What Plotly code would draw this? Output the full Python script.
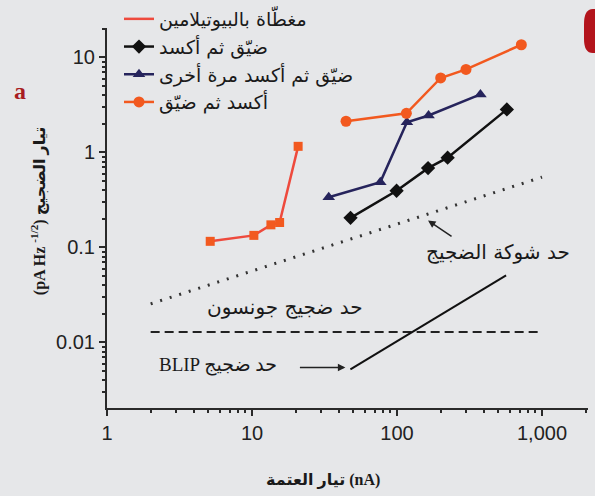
import plotly.graph_objects as go

# --- data -------------------------------------------------------------
# dark current (nA) and noise current (pA Hz^-1/2) for each treatment
butyl_x = [5.15, 10.3, 13.5, 15.5, 20.8]
butyl_y = [0.116, 0.134, 0.173, 0.183, 1.16]

narrow_ox_x = [47.8, 99.3, 163.7, 223.4, 572]
narrow_ox_y = [0.205, 0.395, 0.684, 0.88, 2.84]

narrow_ox2_x = [33.8, 76.7, 117, 165, 376]
narrow_ox2_y = [0.338, 0.487, 2.08, 2.45, 4.08]

ox_narrow_x = [44.5, 116, 200, 299, 720]
ox_narrow_y = [2.13, 2.58, 6.08, 7.48, 13.6]

# theoretical limits
shot_x = [2, 1000]
shot_y = [0.0255, 0.55]
johnson_x = [2, 1000]
johnson_y = [0.0129, 0.0129]
blip_x = [47.7, 565]
blip_y = [0.0052, 0.0507]

names = [
    "مغطّاة بالبيوتيلامين",
    "ضيّق ثم أكسد",
    "ضيّق ثم أكسد مرة أخرى",
    "أكسد ثم ضيّق",
]
limit_labels = ["حد شوكة الضجيج", "حد ضجيج جونسون", "BLIP حد ضجيج"]

x_tickvals = [1, 10, 100, 1000]
x_ticktext = ["1", "10", "100", "1,000"]
y_tickvals = [0.01, 0.1, 1, 10]
y_ticktext = ["0.01", "0.1", "1", "10"]

x_title = "تيار العتمة (nA)"
y_title = "(pA Hz <sup>-1/2</sup>) تيار الضجيج"

# --- styling ----------------------------------------------------------
BG = "#e6e7e9"
RED = "#ee4a3d"
ORANGE = "#f2591f"
BLACK = "#111111"
NAVY = "#26245c"
AXIS = "#2a2a2a"
SERIF_AR = "Liberation Serif, DejaVu Sans"

fig = go.Figure()

# legend entry for the butylamine series is a plain line
fig.add_trace(go.Scatter(x=[None], y=[None], mode="lines", name=names[0],
                         line=dict(color=RED, width=2.5), legendgroup="g1"))
fig.add_trace(go.Scatter(x=butyl_x, y=butyl_y, mode="lines+markers", showlegend=False,
                         line=dict(color=RED, width=2.5),
                         marker=dict(symbol="square", size=9, color=ORANGE)))
fig.add_trace(go.Scatter(x=narrow_ox_x, y=narrow_ox_y, mode="lines+markers", name=names[1],
                         legendgroup="g2",
                         line=dict(color=BLACK, width=2.5),
                         marker=dict(symbol="diamond", size=11, color=BLACK)))
fig.add_trace(go.Scatter(x=narrow_ox2_x, y=narrow_ox2_y, mode="lines+markers", name=names[2],
                         legendgroup="g3",
                         line=dict(color=NAVY, width=2.5),
                         marker=dict(symbol="triangle-up", size=11, color=NAVY)))
fig.add_trace(go.Scatter(x=ox_narrow_x, y=ox_narrow_y, mode="lines+markers", name=names[3],
                         legendgroup="g4",
                         line=dict(color=ORANGE, width=2.5),
                         marker=dict(symbol="circle", size=11, color=ORANGE)))

# noise limits
fig.add_trace(go.Scatter(x=shot_x, y=shot_y, mode="lines", showlegend=False,
                         line=dict(color="#333333", width=3, dash="2px,8px")))
fig.add_trace(go.Scatter(x=johnson_x, y=johnson_y, mode="lines", showlegend=False,
                         line=dict(color="#222222", width=2, dash="9px,5px")))
fig.add_trace(go.Scatter(x=blip_x, y=blip_y, mode="lines", showlegend=False,
                         line=dict(color="#111111", width=2)))

label_font = dict(family="DejaVu Sans", size=20, color="#1a1a1a")

# limit labels and pointers
fig.add_annotation(x=2.695, y=-1.053, xref="x", yref="y", text=limit_labels[0],
                   showarrow=False, font=label_font)
fig.add_annotation(x=2.214, y=-0.716, xref="x", yref="y", text="", showarrow=True,
                   ax=25, ay=17, arrowhead=2, arrowsize=1, arrowwidth=1.5,
                   arrowcolor="#222222")
fig.add_annotation(x=1.229, y=-1.628, xref="x", yref="y", text=limit_labels[1],
                   showarrow=False, font=label_font)
fig.add_annotation(x=0.764, y=-2.242, xref="x", yref="y", text=limit_labels[2],
                   showarrow=False, font=dict(family=SERIF_AR, size=19, color="#1a1a1a"))
fig.add_annotation(x=1.644, y=-2.263, xref="x", yref="y", text="", showarrow=True,
                   ax=-47, ay=0, arrowhead=2, arrowsize=1, arrowwidth=1.5,
                   arrowcolor="#222222")

# axis titles
fig.add_annotation(x=0.449, y=0, xref="paper", yref="paper", yshift=-72,
                   text=x_title, showarrow=False, yanchor="middle",
                   font=dict(family=SERIF_AR, size=16, color="#1a1a1a", weight="bold"))
fig.add_annotation(x=0, y=0.518, xref="paper", yref="paper", xshift=-69,
                   text=y_title, showarrow=False, textangle=-90,
                   xanchor="center", yanchor="middle",
                   font=dict(family=SERIF_AR, size=16, color="#1a1a1a", weight="bold"))

# panel letter
fig.add_annotation(x=-0.197, y=0.873, xref="paper", yref="paper", text="a",
                   showarrow=False,
                   font=dict(family="Liberation Serif", size=24, color="#a81c22", weight="bold"))

# corner badge
fig.add_shape(type="path", xref="paper", yref="paper",
              path="M 1.03,1.05 L 1.010,1.05 Q 0.9917,1.05 0.9917,1.01 "
                   "L 0.9917,0.971 Q 0.9917,0.934 1.010,0.934 L 1.03,0.934 Z",
              fillcolor="#b3141c", line=dict(width=0), layer="above")

minor_x = [2, 3, 4, 5, 6, 7, 8, 9, 20, 30, 40, 50, 60, 70, 80, 90,
           200, 300, 400, 500, 600, 700, 800, 900, 2000]
minor_y = [0.003, 0.004, 0.005, 0.006, 0.007, 0.008, 0.009,
           0.02, 0.03, 0.04, 0.05, 0.06, 0.07, 0.08, 0.09,
           0.2, 0.3, 0.4, 0.5, 0.6, 0.7, 0.8, 0.9,
           2, 3, 4, 5, 6, 7, 8, 9, 20]

tick_font = dict(family="Liberation Sans", size=20, color="#222222")

fig.update_layout(
    width=595, height=496, autosize=False,
    margin=dict(l=107, r=7, t=28, b=88, autoexpand=False),
    paper_bgcolor=BG, plot_bgcolor=BG,
    showlegend=True,
    legend=dict(xref="container", yref="container", x=0.2, y=1.0,
                xanchor="left", yanchor="top", bgcolor="rgba(0,0,0,0)",
                font=dict(family="DejaVu Sans", size=19, color="#1a1a1a"),
                tracegroupgap=0, itemwidth=30),
    xaxis=dict(type="log", range=[0, 3.317], showgrid=False, zeroline=False,
               showline=True, linecolor=AXIS, linewidth=2,
               ticks="outside", ticklen=6, tickwidth=1.5, tickcolor=AXIS,
               tickvals=x_tickvals, ticktext=x_ticktext, tickfont=tick_font,
               minor=dict(tickvals=minor_x, ticks="outside", ticklen=3,
                          tickwidth=1.5, tickcolor=AXIS)),
    yaxis=dict(type="log", range=[-2.69, 1.31], showgrid=False, zeroline=False,
               showline=True, linecolor=AXIS, linewidth=2,
               ticks="outside", ticklen=6, tickwidth=1.5, tickcolor=AXIS,
               tickvals=y_tickvals, ticktext=y_ticktext, tickfont=tick_font,
               minor=dict(tickvals=minor_y, ticks="outside", ticklen=3,
                          tickwidth=1.5, tickcolor=AXIS)),
)

fig.write_html("out.html")
